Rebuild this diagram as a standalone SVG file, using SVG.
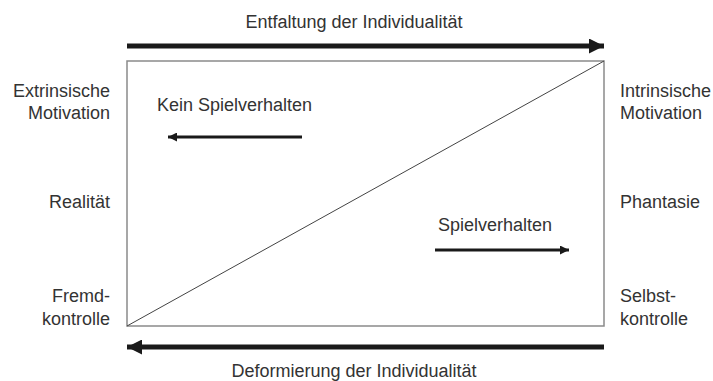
<svg xmlns="http://www.w3.org/2000/svg" width="713" height="381" viewBox="0 0 713 381">
<defs>
<marker id="bigHead" viewBox="0 0 10 10" refX="10" refY="5" markerWidth="3.2" markerHeight="3" orient="auto" markerUnits="strokeWidth"><path d="M0,0 L10,5 L0,10 z" fill="#1a1a1a"/></marker>
<marker id="smallHead" viewBox="0 0 10 10" refX="10" refY="5" markerWidth="3.5" markerHeight="3" orient="auto" markerUnits="strokeWidth"><path d="M0,0 L10,5 L0,10 z" fill="#1a1a1a"/></marker>
</defs>
<style>
text{font-family:"Liberation Sans",Arial,sans-serif;font-size:18px;fill:#333}
.r{text-anchor:end}
.c{text-anchor:middle}
.big{stroke:#1a1a1a;stroke-width:5;fill:none}
.small{stroke:#1a1a1a;stroke-width:3;fill:none}
</style>
<g id="frame">
<rect x="127" y="61" width="477" height="265" fill="#fff" stroke="#8a8a8a" stroke-width="1.5"/>
<line x1="127" y1="326" x2="604" y2="61" stroke="#444" stroke-width="1"/>
</g>
<g id="connectors">
<line class="big" x1="127" y1="46" x2="604" y2="46" marker-end="url(#bigHead)"/>
<line class="big" x1="604" y1="347" x2="127" y2="347" marker-end="url(#bigHead)"/>
<line class="small" x1="302" y1="137" x2="168" y2="137" marker-end="url(#smallHead)"/>
<line class="small" x1="435" y1="250" x2="569" y2="250" marker-end="url(#smallHead)"/>
</g>
<g id="top-label"><text class="c" x="354" y="28">Entfaltung der Individualität</text></g>
<g id="bottom-label"><text class="c" x="354" y="377">Deformierung der Individualität</text></g>
<g id="extrinsic"><text class="r" x="110" y="97">Extrinsische</text><text class="r" x="110" y="119">Motivation</text></g>
<g id="realitaet"><text class="r" x="110" y="208">Realität</text></g>
<g id="fremd"><text class="r" x="110" y="302">Fremd-</text><text class="r" x="110" y="325">kontrolle</text></g>
<g id="intrinsic"><text x="620" y="97">Intrinsische</text><text x="620" y="119">Motivation</text></g>
<g id="phantasie"><text x="620" y="208">Phantasie</text></g>
<g id="selbst"><text x="620" y="302">Selbst-</text><text x="620" y="325">kontrolle</text></g>
<g id="kein"><text x="157" y="111">Kein Spielverhalten</text></g>
<g id="spiel"><text x="438" y="231">Spielverhalten</text></g>
</svg>
